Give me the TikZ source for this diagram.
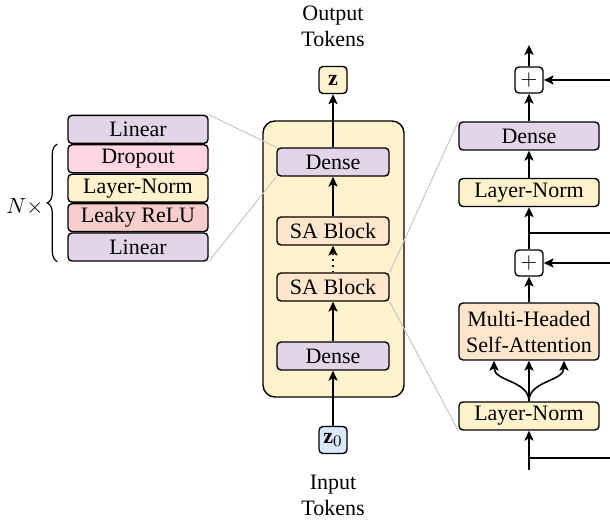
\documentclass[tikz,border=0pt]{standalone}
\usepackage{amsmath,amssymb}
\usepackage{fontspec}
\setmainfont{Liberation Serif}
\usetikzlibrary{shapes.geometric, arrows.meta, positioning, calc, decorations.pathreplacing}

\definecolor{linpurple}{HTML}{E1D5E7}
\definecolor{droppink}{HTML}{FFD6E2}
\definecolor{normyellow}{HTML}{FFF2CC}
\definecolor{relured}{HTML}{F8CECC}
\definecolor{sapeach}{HTML}{FFE6CC}
\definecolor{tokblue}{HTML}{DAE8FC}

\tikzstyle{block} = [draw, rectangle, rounded corners=2pt, line width=0.7pt, minimum height=14pt, inner sep=0pt, font=\fontsize{11}{13}\selectfont]
\tikzstyle{tok} = [block, minimum width=14pt, minimum height=13.5pt]
\tikzstyle{arrow} = [line width=0.8pt, -{Stealth[length=5pt, width=4.6pt, inset=1.2pt]}]
\tikzstyle{zoomline} = [draw=black!22, line width=0.5pt]

\begin{document}
\begin{tikzpicture}[x=0.5pt, y=0.5pt]
    \useasboundingbox (0,0) rectangle (610,529);

    % Dense Layer Stack
    \node (lin1) [block, fill=linpurple, minimum width=70pt] at (138,282) {Linear};
    \node (relu) [block, fill=relured, minimum width=70pt, above=0pt of lin1] {Leaky ReLU};
    \node (norm) [block, fill=normyellow, minimum width=70pt, above=0pt of relu] {Layer-Norm};
    \node (drop) [block, fill=droppink, minimum width=70pt, above=0pt of norm] {Dropout};
    \node (lin2) [block, fill=linpurple, minimum width=70pt, above=0pt of drop] {Linear};
    \draw [decorate, decoration={brace, amplitude=5pt}, line width=0.6pt] ($(lin1.south west)+(-10,0)$) -- ($(drop.north west)+(-10,0)$);
    \node (rep) at (25,322) {\fontsize{11}{13}\selectfont $N\times$};

    % Model
    \node (model) [draw, rectangle, rounded corners=6pt, line width=0.7pt, fill=normyellow, minimum width=70.5pt, minimum height=138pt] at (333.5,270) {};
    \node (dtop) [block, fill=linpurple, minimum width=56pt] at (333,367) {Dense};
    \node (sa1) [block, fill=sapeach, minimum width=56pt] at (333,298) {SA Block};
    \node (sa2) [block, fill=sapeach, minimum width=56pt] at (333,242) {SA Block};
    \node (dbot) [block, fill=linpurple, minimum width=56pt] at (333,173) {Dense};
    \node (zout) [tok, fill=normyellow] at (333,449) {$\mathbf{z}$};
    \node (zin) [tok, fill=tokblue] at (333,89) {$\mathbf{z}_0$};
    \node (outlbl) [align=center, font=\fontsize{11}{13}\selectfont] at (333,503) {Output\\Tokens};
    \node (inlbl) [align=center, font=\fontsize{11}{13}\selectfont] at (333,34) {Input\\Tokens};

    % Self-Attention Block
    \node (lnb) [block, fill=normyellow, minimum width=70pt] at (529,113) {Layer-Norm};
    \node (mhsa) [block, fill=sapeach, minimum width=70pt, minimum height=28.5pt, align=center] at (529,197.5) {Multi-Headed\\Self-Attention};
    \node (plusb) [block, fill=white, minimum width=14pt, minimum height=13pt] at (529,266) {$+$};
    \node (lna) [block, fill=normyellow, minimum width=70pt] at (529,336.5) {Layer-Norm};
    \node (dright) [block, fill=linpurple, minimum width=70pt] at (529,393) {Dense};
    \node (plusa) [block, fill=white, minimum width=14pt, minimum height=13pt] at (529,449) {$+$};
    \coordinate (sain) at (529,59);
    \coordinate (saout) at (529,484);
    \coordinate (res1) at (529,71);
    \coordinate (res1e) at (610,71);
    \coordinate (res2) at (529,296);
    \coordinate (res2e) at (610,296);
    \coordinate (skipb) at (610,266);
    \coordinate (skipa) at (610,449);

    % Zoom Lines
    \draw [zoomline] (lin2.north east) -- (dtop.north west);
    \draw [zoomline] (lin1.south east) -- (dtop.south west);
    \draw [zoomline] (sa2.north east) -- (dright.north west);
    \draw [zoomline] (sa2.south east) -- (lnb.south west);

    % Connections
    \draw [arrow] (zin) -- (dbot);
    \draw [arrow] (dbot) -- (sa2);
    \draw [arrow, dotted] (sa2) -- (sa1);
    \draw [arrow] (sa1) -- (dtop);
    \draw [arrow] (dtop) -- (zout);

    \draw [arrow] (sain) -- (lnb);
    \draw [line width=0.8pt] (res1) -- (res1e);
    \draw [arrow] (lnb) -- (mhsa);
    \draw [arrow] (lnb.north) to[out=90, in=-90] ($(mhsa.south)+(-35,0)$);
    \draw [arrow] (lnb.north) to[out=90, in=-90] ($(mhsa.south)+(35,0)$);
    \draw [arrow] (mhsa) -- (plusb);
    \draw [arrow] (skipb) -- (plusb);
    \draw [arrow] (plusb) -- (lna);
    \draw [line width=0.8pt] (res2) -- (res2e);
    \draw [arrow] (lna) -- (dright);
    \draw [arrow] (dright) -- (plusa);
    \draw [arrow] (skipa) -- (plusa);
    \draw [arrow] (plusa) -- (saout);
\end{tikzpicture}
\end{document}
